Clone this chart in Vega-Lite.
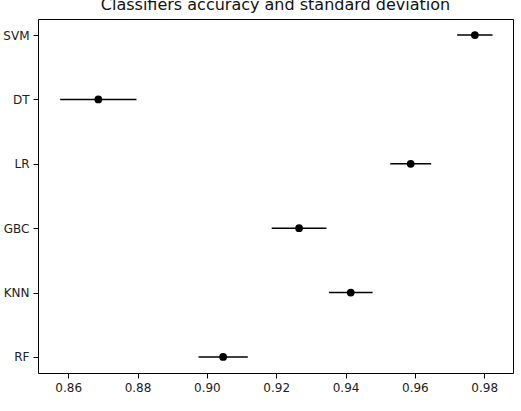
{
  "$schema": "https://vega.github.io/schema/vega-lite/v6.json",
  "autosize": "none",
  "padding": {"left": 38, "top": 19, "right": 8, "bottom": 38},
  "width": 475,
  "height": 354,
  "background": "white",
  "title": {
    "text": "Classifiers accuracy and standard deviation",
    "font": "DejaVu Sans",
    "fontSize": 16,
    "fontWeight": "normal",
    "color": "#111111",
    "anchor": "middle",
    "baseline": "alphabetic",
    "offset": 0,
    "dy": 7
  },
  "data": {
    "values": [
      {"model": "SVM", "acc": 0.9773, "std": 0.0051},
      {"model": "DT", "acc": 0.8687, "std": 0.0110},
      {"model": "LR", "acc": 0.9588, "std": 0.0059},
      {"model": "GBC", "acc": 0.9266, "std": 0.0079},
      {"model": "KNN", "acc": 0.9415, "std": 0.0063},
      {"model": "RF", "acc": 0.9047, "std": 0.0071}
    ]
  },
  "encoding": {
    "y": {
      "field": "model",
      "type": "nominal",
      "sort": null,
      "scale": {"type": "point", "padding": 0.25},
      "axis": {"title": null}
    }
  },
  "layer": [
    {
      "mark": {"type": "errorbar", "color": "black", "thickness": 1.5},
      "encoding": {
        "x": {
          "field": "acc",
          "type": "quantitative",
          "scale": {"domain": [0.8513, 0.9883], "nice": false, "zero": false},
          "axis": {
            "title": null,
            "values": [0.86, 0.88, 0.9, 0.92, 0.94, 0.96, 0.98],
            "format": ".2f"
          }
        },
        "xError": {"field": "std"}
      }
    },
    {
      "mark": {"type": "point", "filled": true, "color": "black", "opacity": 1, "size": 60},
      "encoding": {
        "x": {"field": "acc", "type": "quantitative"}
      }
    }
  ],
  "config": {
    "view": {"stroke": "black", "strokeWidth": 1},
    "axis": {
      "domain": false,
      "grid": false,
      "ticks": true,
      "tickColor": "black",
      "tickSize": 5,
      "tickWidth": 1,
      "labelFont": "DejaVu Sans",
      "labelFontSize": 12,
      "labelColor": "#222222",
      "labelPadding": 4
    }
  }
}
